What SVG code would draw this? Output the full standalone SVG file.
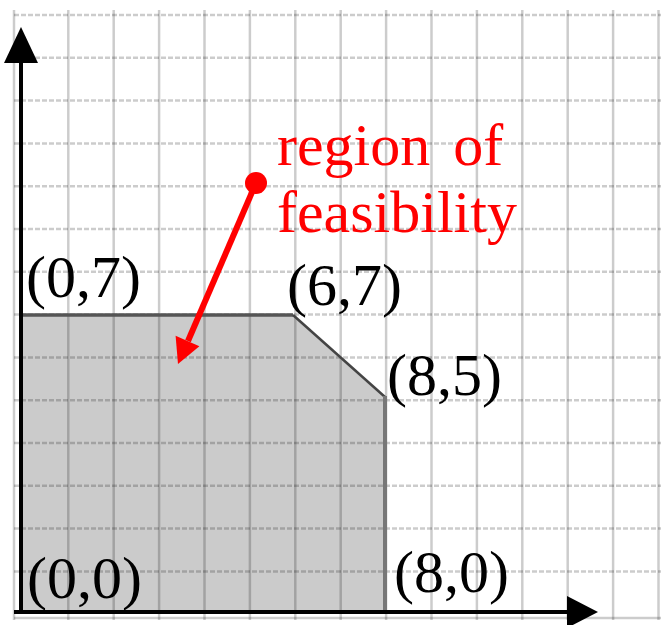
<svg xmlns="http://www.w3.org/2000/svg" width="661" height="625" viewBox="0 0 661 625">
<style>
.vg{stroke:#000;stroke-opacity:0.2;stroke-width:2.5;fill:none}
.hg{stroke:#000;stroke-opacity:0.2;stroke-width:2.5;stroke-dasharray:5 2;fill:none}
.lbl{font-family:"Liberation Serif","Times New Roman",serif;font-size:60px;fill:#000}
.red{font-family:"Liberation Serif","Times New Roman",serif;font-size:60px;fill:#ff0000}
</style>
<rect width="661" height="625" fill="#fff"/>
<g id="region">
<polygon points="22,315 293,315 385,397 385,612 22,612" fill="#cbcbcb"/>
</g>
<g id="grid">
<line class="vg" x1="14" y1="10" x2="14" y2="620"/>
<line class="vg" x1="68.3" y1="10" x2="68.3" y2="620"/>
<line class="vg" x1="113.7" y1="10" x2="113.7" y2="620"/>
<line class="vg" x1="159.1" y1="10" x2="159.1" y2="620"/>
<line class="vg" x1="204.5" y1="10" x2="204.5" y2="620"/>
<line class="vg" x1="249.9" y1="10" x2="249.9" y2="620"/>
<line class="vg" x1="295.3" y1="10" x2="295.3" y2="620"/>
<line class="vg" x1="340.7" y1="10" x2="340.7" y2="620"/>
<line class="vg" x1="386.1" y1="10" x2="386.1" y2="620"/>
<line class="vg" x1="431.5" y1="10" x2="431.5" y2="620"/>
<line class="vg" x1="476.9" y1="10" x2="476.9" y2="620"/>
<line class="vg" x1="522.3" y1="10" x2="522.3" y2="620"/>
<line class="vg" x1="567.7" y1="10" x2="567.7" y2="620"/>
<line class="vg" x1="613.1" y1="10" x2="613.1" y2="620"/>
<line class="vg" x1="658.5" y1="10" x2="658.5" y2="620"/>
<line class="hg" x1="14" y1="15" x2="661" y2="15"/>
<line class="hg" x1="14" y1="57.8" x2="661" y2="57.8"/>
<line class="hg" x1="14" y1="100.6" x2="661" y2="100.6"/>
<line class="hg" x1="14" y1="143.4" x2="661" y2="143.4"/>
<line class="hg" x1="14" y1="186.2" x2="661" y2="186.2"/>
<line class="hg" x1="14" y1="229" x2="661" y2="229"/>
<line class="hg" x1="14" y1="271.8" x2="661" y2="271.8"/>
<line class="hg" x1="14" y1="314.6" x2="661" y2="314.6"/>
<line class="hg" x1="14" y1="357.4" x2="661" y2="357.4"/>
<line class="hg" x1="14" y1="400.2" x2="661" y2="400.2"/>
<line class="hg" x1="14" y1="443" x2="661" y2="443"/>
<line class="hg" x1="14" y1="485.8" x2="661" y2="485.8"/>
<line class="hg" x1="14" y1="528.6" x2="661" y2="528.6"/>
<line class="hg" x1="14" y1="571.4" x2="661" y2="571.4"/>
<line class="vg" x1="14" y1="618" x2="661" y2="618"/>
</g>
<g id="region-border" fill="none">
<line x1="22" y1="315" x2="293" y2="315" stroke="#555" stroke-width="3.5"/>
<line x1="293" y1="315" x2="385" y2="397" stroke="#444" stroke-width="2.5"/>
<line x1="385" y1="396" x2="385" y2="612" stroke="#777" stroke-width="4"/>
</g>
<g id="axes">
<line x1="21" y1="613" x2="21" y2="60" stroke="#000" stroke-width="4"/>
<polygon points="21,27 38,63 4,63" fill="#000"/>
<line x1="14" y1="612" x2="570" y2="612" stroke="#000" stroke-width="4"/>
<polygon points="598,612 567,596 567,628" fill="#000"/>
</g>
<g id="label-0-7"><text class="lbl" x="26" y="297">(0,7)</text></g>
<g id="label-6-7"><text class="lbl" x="287" y="305">(6,7)</text></g>
<g id="label-8-5"><text class="lbl" x="387" y="395">(8,5)</text></g>
<g id="label-0-0"><text class="lbl" x="27" y="598">(0,0)</text></g>
<g id="label-8-0"><text class="lbl" x="394" y="592">(8,0)</text></g>
<g id="label-region"><text class="red" x="277" y="165" word-spacing="8">region of</text><text class="red" x="277" y="232">feasibility</text></g>
<g id="connectors">
<circle cx="256" cy="183" r="11" fill="#ff0000"/>
<line x1="256" y1="183" x2="188" y2="341" stroke="#ff0000" stroke-width="6"/>
<polygon points="178,364 199.4,346.2 175.6,335.8" fill="#ff0000"/>
</g>
</svg>
